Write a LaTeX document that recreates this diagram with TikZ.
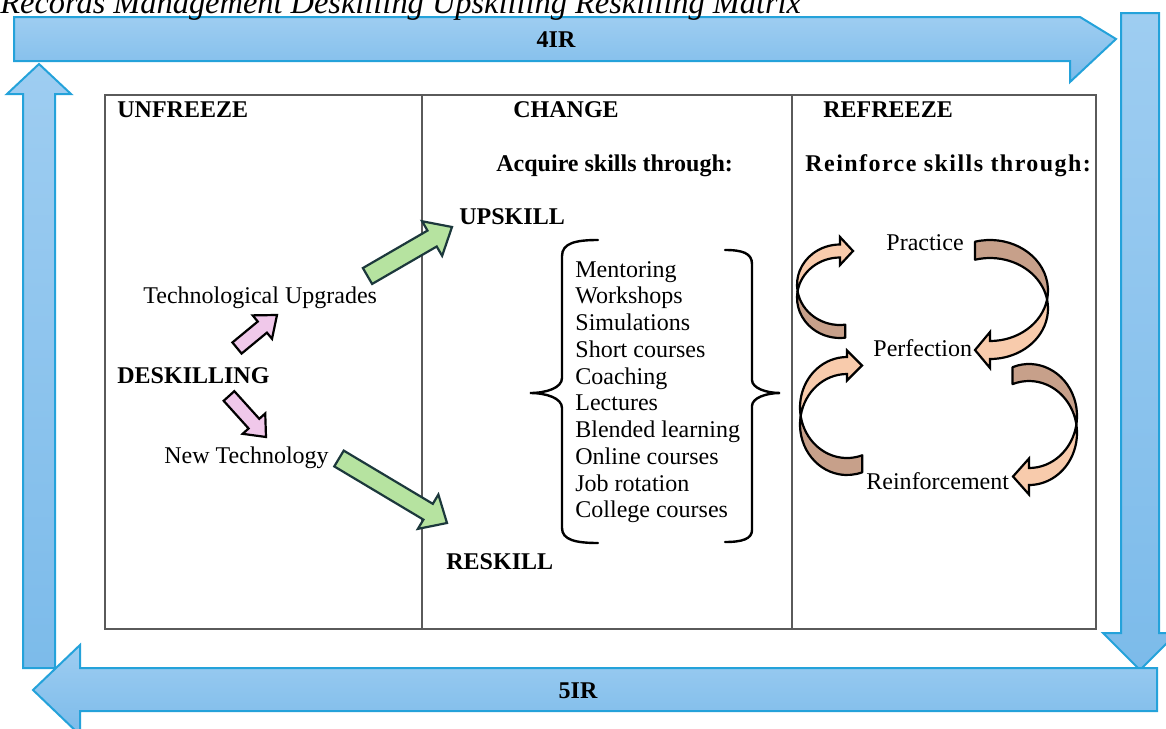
\documentclass[tikz,border=0pt]{standalone}
\usepackage{fontspec}
\setmainfont{Liberation Serif}
\usetikzlibrary{calc}

\definecolor{bandtop}{RGB}{158,205,241}
\definecolor{bandbot}{RGB}{124,187,234}
\definecolor{bandline}{RGB}{36,162,218}
\definecolor{leafgreen}{RGB}{182,227,160}
\definecolor{leafline}{RGB}{28,56,60}
\definecolor{blush}{RGB}{240,200,234}
\definecolor{peach}{RGB}{248,203,172}
\definecolor{ribbonshade}{RGB}{199,160,138}
\definecolor{boxline}{RGB}{90,90,90}

% straight block arrow between two named points
% #1 style, #2 tail, #3 tip, #4 half shaft, #5 half head, #6 head length
\newcommand\blockarrow[6]{%
  \coordinate (ba-p) at ($(#3)!#6!(#2)$);
  \draw[#1] ($(#2)!#4!90:(#3)$) -- ($(ba-p)!#4!-90:(#2)$) -- ($(ba-p)!#5!-90:(#2)$)
    -- (#3) -- ($(ba-p)!#5!90:(#2)$) -- ($(ba-p)!#4!90:(#2)$) -- ($(#2)!#4!-90:(#3)$) -- cycle;
}

% twisted ribbon arrows: two offset ellipses (centre cx,cy and cx,cy+t)
% #1 cx, #2 cy, #3 rx, #4 ry, #5 t, #6 half head, #7 head length, #8 tail angle
\newcommand\ribbonL[8]{%
  \pgfmathsetmacro\rbA{asin(#5/(2*#4))}
  \pgfmathsetmacro\rbX{#1-#3*cos(\rbA)}
  \pgfmathsetmacro\rbY{#2+#5/2}
  \draw[ribbonback] ({#1+#3*cos(#8)},{#2+#4*sin(#8)})
    arc[start angle=#8, end angle={180-\rbA}, x radius=#3, y radius=#4]
    arc[start angle={180+\rbA}, end angle=#8, x radius=#3, y radius=#4] -- cycle;
  \draw[ribbonfront] (\rbX,\rbY)
    arc[start angle={180-\rbA}, end angle=270, x radius=#3, y radius=#4]
    -- (#1,{#2-#4+#5/2-#6}) -- ({#1+#7},{#2-#4+#5/2}) -- (#1,{#2-#4+#5/2+#6})
    -- (#1,{#2-#4+#5})
    arc[start angle=270, end angle={180+\rbA}, x radius=#3, y radius=#4] -- cycle;
}
\newcommand\ribbonR[8]{%
  \pgfmathsetmacro\rbA{asin(#5/(2*#4))}
  \pgfmathsetmacro\rbX{#1+#3*cos(\rbA)}
  \pgfmathsetmacro\rbY{#2+#5/2}
  \draw[ribbonback] ({#1+#3*cos(#8)},{#2+#4*sin(#8)})
    arc[start angle=#8, end angle={360+\rbA}, x radius=#3, y radius=#4]
    arc[start angle={360-\rbA}, end angle=#8, x radius=#3, y radius=#4] -- cycle;
  \draw[ribbonfront] (\rbX,\rbY)
    arc[start angle=\rbA, end angle=90, x radius=#3, y radius=#4]
    -- (#1,{#2+#4+#5/2-#6}) -- ({#1-#7},{#2+#4+#5/2}) -- (#1,{#2+#4+#5/2+#6})
    -- (#1,{#2+#4+#5})
    arc[start angle=90, end angle={-\rbA}, x radius=#3, y radius=#4] -- cycle;
}

\tikzset{
  band/.style={draw=bandline, line width=1pt, top color=bandtop, bottom color=bandbot, line join=miter},
  greenarrow/.style={draw=leafline, line width=1.1pt, fill=leafgreen, line join=miter},
  pinkarrow/.style={draw=black, line width=1.1pt, fill=blush, line join=miter},
  ribbonback/.style={draw=black, line width=1.1pt, fill=ribbonshade, line join=round},
  ribbonfront/.style={draw=black, line width=1.1pt, fill=peach, line join=miter},
  hd/.style={font=\fontsize{12}{14}\selectfont\bfseries, anchor=base west, inner sep=0pt},
  tx/.style={font=\fontsize{12}{14}\selectfont, anchor=base west, inner sep=0pt},
  bandlabel/.style={font=\fontsize{12}{14}\selectfont\bfseries, inner sep=0pt},
  brace/.style={draw=black, line width=1.2pt, line cap=round},
  frame/.style={draw=boxline, line width=0.7pt}
}

\begin{document}
\begin{tikzpicture}[x=0.5pt, y=-0.5pt]
\useasboundingbox (0,0) rectangle (1166,728);

% outer cycle of revolution arrows
\draw[band] (14,17) -- (1080,17) -- (1116,39) -- (1070,82) -- (1070,61) -- (14,61) -- cycle;
\draw[band] (1121,13) -- (1159,13) -- (1159,633) -- (1177,633) -- (1140,670) -- (1103,633) -- (1121,633) -- cycle;
\draw[band] (23,668) -- (23,94) -- (7,94) -- (39,64) -- (71,94) -- (55,94) -- (55,668) -- cycle;
\draw[band] (1157,668) -- (80,668) -- (80,645) -- (33,690) -- (80,735) -- (80,711) -- (1157,711) -- cycle;
\node[bandlabel] (fourir) at (556,40) {4IR};
\node[bandlabel] (fiveir) at (578,691) {5IR};

\node[anchor=base west, inner sep=0pt, font=\fontsize{16.2}{18}\selectfont\itshape] (title) at (0,13)
  {Records Management Deskilling Upskilling Reskilling Matrix};

% three-stage frame
\draw[frame] (105,95) rectangle (1096,629);
\draw[frame] (422,95) -- (422,629);
\draw[frame] (792,95) -- (792,629);

\node[hd] (unfreeze) at (117,117) {UNFREEZE};
\node[hd] (change) at (513,117) {CHANGE};
\node[hd] (refreeze) at (823,117) {REFREEZE};
\node[hd] (acquire) at (496,171) {Acquire skills through:};
\node[hd] (reinforce) at (805,171) {\addfontfeature{LetterSpace=6}Reinforce skills through:};
\node[hd] (upskill) at (459,224) {UPSKILL};
\node[hd] (reskill) at (446,569) {RESKILL};
\node[tx] (techup) at (143,303) {Technological Upgrades};
\node[hd] (deskill) at (117,383) {DESKILLING};
\node[tx] (newtech) at (164,463) {New Technology};

% deskilling branches
\coordinate (p1a) at (237,348); \coordinate (p1b) at (277,315);
\coordinate (p2a) at (229,396); \coordinate (p2b) at (266,437);
\blockarrow{pinkarrow}{p1a}{p1b}{3.6pt}{7.6pt}{9.5pt}
\blockarrow{pinkarrow}{p2a}{p2b}{3.6pt}{7.6pt}{9pt}

% routes to upskill and reskill
\coordinate (g1a) at (367.5,276); \coordinate (g1b) at (452,227);
\coordinate (g2a) at (339,458.5); \coordinate (g2b) at (447,523);
\blockarrow{greenarrow}{g1a}{g1b}{4.6pt}{10pt}{11.5pt}
\blockarrow{greenarrow}{g2a}{g2b}{4.6pt}{10pt}{11pt}

% learning methods
\foreach \w [count=\i from 0] in {Mentoring, Workshops, Simulations, Short courses, Coaching,
  Lectures, Blended learning, Online courses, Job rotation, College courses}
  \node[tx] (method\i) at (575,{277+26.75*\i}) {\w};

\draw[brace] (598,240) .. controls (576,240) and (562,243) .. (562,256) -- (562,378)
  .. controls (562,388) and (546,393) .. (530,393)
  .. controls (546,393) and (562,398) .. (562,408) -- (562,528)
  .. controls (562,540) and (576,543) .. (598,543);
\draw[brace] (725,250) .. controls (742,250) and (752,253) .. (752,264) -- (752,380)
  .. controls (752,388) and (766,393) .. (780,393)
  .. controls (766,393) and (752,398) .. (752,406) -- (752,530)
  .. controls (752,539) and (742,542) .. (725,542);

% reinforcement loop
\node[tx] (practice) at (886,250) {Practice};
\node[tx] (perfection) at (873,356) {Perfection};
\node[tx] (reinforcement) at (866,489) {Reinforcement};
\ribbonL{840}{284.75}{43}{40.25}{13}{14}{13}{83}
\ribbonR{990}{290.5}{58}{50.5}{18}{18}{15}{255}
\ribbonL{847}{407.5}{47}{50.5}{17}{15}{15}{71}
\ribbonR{1029}{416}{48}{52}{17}{18}{16}{250}
\end{tikzpicture}
\end{document}
